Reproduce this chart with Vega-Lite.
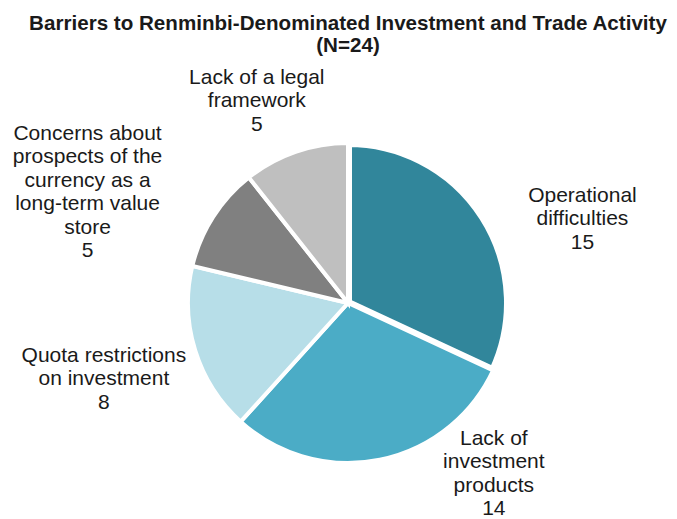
{
  "$schema": "https://vega.github.io/schema/vega-lite/v6.json",
  "width": 658,
  "height": 432,
  "autosize": {"type": "none"},
  "padding": {"left": 19, "top": 87, "right": 0, "bottom": 0},
  "background": "white",
  "config": {"view": {"stroke": null}},
  "title": {
    "text": ["Barriers to Renminbi-Denominated Investment and Trade Activity", "(N=24)"],
    "font": "Liberation Sans",
    "fontSize": 20.6,
    "fontWeight": "bold",
    "lineHeight": 22,
    "color": "#1a1a1a",
    "anchor": "middle",
    "frame": "group",
    "offset": 10
  },
  "data": {
    "values": [
      {"Category": "Operational difficulties", "Label": "Operational|difficulties", "Count": 15},
      {"Category": "Lack of investment products", "Label": "Lack of|investment|products", "Count": 14},
      {"Category": "Quota restrictions on investment", "Label": "Quota restrictions|on investment", "Count": 8},
      {"Category": "Concerns about prospects of the currency as a long-term value store", "Label": "Concerns about|prospects of the|currency as a|long-term value|store", "Count": 5},
      {"Category": "Lack of a legal framework", "Label": "Lack of a legal|framework", "Count": 5}
    ]
  },
  "transform": [{"calculate": "datum.Label + '|' + datum.Count", "as": "Text"}],
  "encoding": {
    "theta": {"field": "Count", "type": "quantitative", "stack": true},
    "order": {"field": "Count", "sort": "descending"}
  },
  "layer": [
    {
      "mark": {"type": "arc", "outerRadius": 160, "stroke": "white"},
      "encoding": {
        "color": {
          "field": "Category",
          "type": "nominal",
          "scale": {
            "domain": ["Operational difficulties", "Lack of investment products", "Quota restrictions on investment", "Concerns about prospects of the currency as a long-term value store", "Lack of a legal framework"],
            "range": ["#31869B", "#4BACC6", "#B7DEE8", "#808080", "#BFBFBF"]
          },
          "legend": null
        },
        "strokeWidth": {
          "condition": {"test": "datum.Category === 'Operational difficulties'", "value": 8},
          "value": 4
        }
      }
    },
    {
      "mark": {
        "type": "text",
        "radius": 220,
        "dx": {"expr": "datum.Category === 'Operational difficulties' ? 49 : datum.Category === 'Lack of investment products' ? 102 : datum.Category === 'Quota restrictions on investment' ? -34 : datum.Category === 'Lack of a legal framework' ? -19 : -75"},
        "dy": {"expr": "datum.Category === 'Operational difficulties' ? 11 : datum.Category === 'Lack of investment products' ? -80 : datum.Category === 'Quota restrictions on investment' ? -12.5 : datum.Category === 'Lack of a legal framework' ? -17.5 : -51"},
        "font": "Liberation Sans",
        "fontSize": 21,
        "lineHeight": 23.5,
        "lineBreak": "|",
        "fill": "#1a1a1a",
        "align": "center",
        "baseline": "middle"
      },
      "encoding": {
        "detail": {"field": "Category"},
        "text": {"field": "Text"}
      }
    }
  ]
}
